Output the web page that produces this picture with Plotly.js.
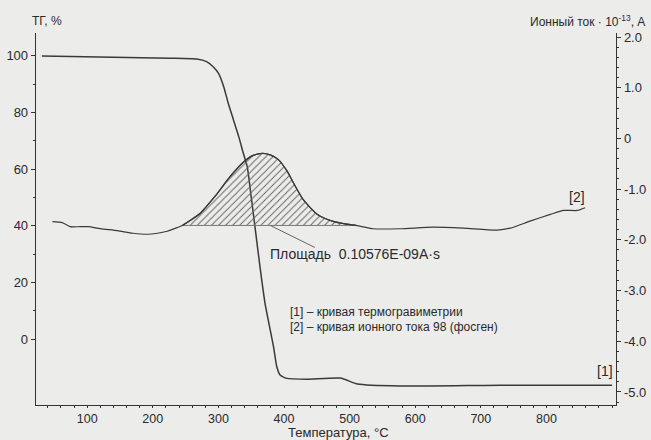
<!DOCTYPE html>
<html>
<head>
<meta charset="utf-8">
<script src="https://cdn.plot.ly/plotly-3.0.1.min.js"></script>
<style>
html,body{margin:0;padding:0;background:#ececea;}
#chart{width:651px;height:440px;}
</style>
</head>
<body>
<div id="chart"></div>
<script>
// TG curve [1] (left axis, %)
const tgTemp = [31, 226, 267, 282, 292, 300, 308, 315, 323, 331, 338, 344, 350, 356, 364, 371, 384, 389, 394, 404, 435, 486, 512, 577, 730, 900];
const tgVal  = [100, 99.2, 98.9, 98.0, 96.2, 93.9, 89.2, 83.3, 77.4, 71.5, 65.6, 60.8, 50.2, 39.2, 24.4, 12.7, -2.7, -9.8, -12.7, -13.9, -14.2, -13.8, -15.9, -16.6, -16.3, -16.3];

// Ion current curve [2] (right axis, 10^-13 A)
const ionTemp = [47, 62, 74, 89, 102, 120, 146, 170, 192, 207, 222, 237, 245, 272, 295, 318, 338, 353, 367, 379, 391, 405, 414, 429, 451, 475, 493, 510, 536, 577, 627, 673, 725, 745, 775, 806, 826, 847, 859];
const ionVal  = [-1.64, -1.66, -1.74, -1.74, -1.74, -1.78, -1.82, -1.87, -1.89, -1.87, -1.83, -1.76, -1.716, -1.48, -1.14, -0.75, -0.47, -0.335, -0.296, -0.325, -0.414, -0.651, -0.868, -1.203, -1.499, -1.637, -1.686, -1.716, -1.781, -1.781, -1.75, -1.769, -1.809, -1.769, -1.631, -1.499, -1.42, -1.42, -1.367];

// Integrated peak (hatched area)
const peakStart = 245;
const peakEnd = 510;
const peakBase = -1.716;

// Axis ticks
const xTicks = [100, 200, 300, 400, 500, 600, 700, 800];
const yLeftTicks = [0, 20, 40, 60, 80, 100];
const yRightTicks = [2, 1, 0, -1, -2, -3, -4, -5];
const yRightText = ["2.0", "1.0", "0", "-1.0", "-2.0", "-3.0", "-4.0", "-5.0"];

const peakX = [], peakY = [];
ionTemp.forEach((t, i) => { if (t >= peakStart && t <= peakEnd) { peakX.push(t); peakY.push(ionVal[i]); } });

const lineCol = '#3a3a3a';
const font = "'Liberation Sans', Arial, sans-serif";

const traces = [
  {x: tgTemp, y: tgVal, yaxis: 'y', mode: 'lines', line: {color: lineCol, width: 1.5, shape: 'spline', smoothing: 0.5}, hoverinfo: 'skip'},
  {x: [peakStart, peakEnd], y: [peakBase, peakBase], yaxis: 'y2', mode: 'lines', line: {color: '#777', width: 1}, hoverinfo: 'skip'},
  {x: peakX, y: peakY, yaxis: 'y2', mode: 'lines', line: {color: lineCol, width: 1.2, shape: 'spline', smoothing: 0.6},
   fill: 'tonexty', fillcolor: 'rgba(0,0,0,0)',
   fillpattern: {shape: '/', fgcolor: '#666', bgcolor: 'rgba(0,0,0,0)', size: 5, solidity: 0.2}, hoverinfo: 'skip'},
  {x: ionTemp, y: ionVal, yaxis: 'y2', mode: 'lines', line: {color: lineCol, width: 1.2, shape: 'spline', smoothing: 0.6}, hoverinfo: 'skip'}
];

const layout = {
  width: 651, height: 440,
  paper_bgcolor: '#ececea', plot_bgcolor: '#ececea',
  margin: {l: 36, r: 35, t: 33, b: 35},
  showlegend: false,
  font: {family: font, size: 13, color: '#2a2a2a'},
  xaxis: {
    range: [22, 906], showline: true, linecolor: '#333', linewidth: 1.3, mirror: false,
    showgrid: false, zeroline: false, ticks: 'outside', ticklen: 2, tickcolor: '#333',
    tickvals: xTicks, tickfont: {size: 12.5},
    minor: {dtick: 20, tick0: 0, ticks: 'outside', ticklen: 2, tickcolor: '#333', showgrid: false}
  },
  yaxis: {
    range: [-23.3, 108.1], showline: true, linecolor: '#333', linewidth: 1.3,
    showgrid: false, zeroline: false, ticks: 'outside', ticklen: 4, tickcolor: '#333',
    tickvals: yLeftTicks, tickfont: {size: 13},
    minor: {tickvals: [10, 30, 50, 70, 90], ticks: 'outside', ticklen: 2, tickcolor: '#333', showgrid: false}
  },
  yaxis2: {
    range: [-5.257, 2.079], overlaying: 'y', side: 'right', showline: true, linecolor: '#333', linewidth: 1.3,
    showgrid: false, zeroline: false, ticks: 'outside', ticklen: 4, tickcolor: '#333',
    tickvals: yRightTicks, ticktext: yRightText, tickfont: {size: 13},
    minor: {dtick: 0.2, tick0: 0, ticks: 'outside', ticklen: 2, tickcolor: '#333', showgrid: false}
  },
  shapes: [
    {type: 'line', xref: 'x', yref: 'y2', x0: 379, y0: peakBase, x1: 447, y1: -2.15, line: {color: '#666', width: 1}}
  ],
  annotations: [
    {text: 'ТГ, %', xref: 'paper', yref: 'paper', x: -0.01, y: 1.032, xanchor: 'left', yanchor: 'middle', showarrow: false, font: {size: 12}},
    {text: 'Ионный ток · 10<sup>-13</sup>, А', xref: 'paper', yref: 'paper', x: 1.054, y: 1.032, xanchor: 'right', yanchor: 'middle', showarrow: false, font: {size: 12}},
    {text: 'Температура, °С', xref: 'paper', yref: 'paper', x: 0.521, y: -0.0739, xanchor: 'center', yanchor: 'middle', showarrow: false, font: {size: 13}},
    {text: 'Площадь  0.10576E-09A·s', xref: 'x', yref: 'y2', x: 376, y: -2.288, xanchor: 'left', yanchor: 'middle', showarrow: false, font: {size: 14}},
    {text: '[1] – кривая термогравиметрии', xref: 'x', yref: 'y2', x: 406, y: -3.432, xanchor: 'left', yanchor: 'middle', showarrow: false, font: {size: 12}},
    {text: '[2] – кривая ионного тока 98 (фосген)', xref: 'x', yref: 'y2', x: 406, y: -3.728, xanchor: 'left', yanchor: 'middle', showarrow: false, font: {size: 12}},
    {text: '[2]', xref: 'x', yref: 'y2', x: 847, y: -1.164, xanchor: 'center', yanchor: 'middle', showarrow: false, font: {size: 14}},
    {text: '[1]', xref: 'x', yref: 'y2', x: 889, y: -4.596, xanchor: 'center', yanchor: 'middle', showarrow: false, font: {size: 14}}
  ]
};

Plotly.newPlot('chart', traces, layout, {staticPlot: true, displayModeBar: false});
</script>
</body>
</html>
